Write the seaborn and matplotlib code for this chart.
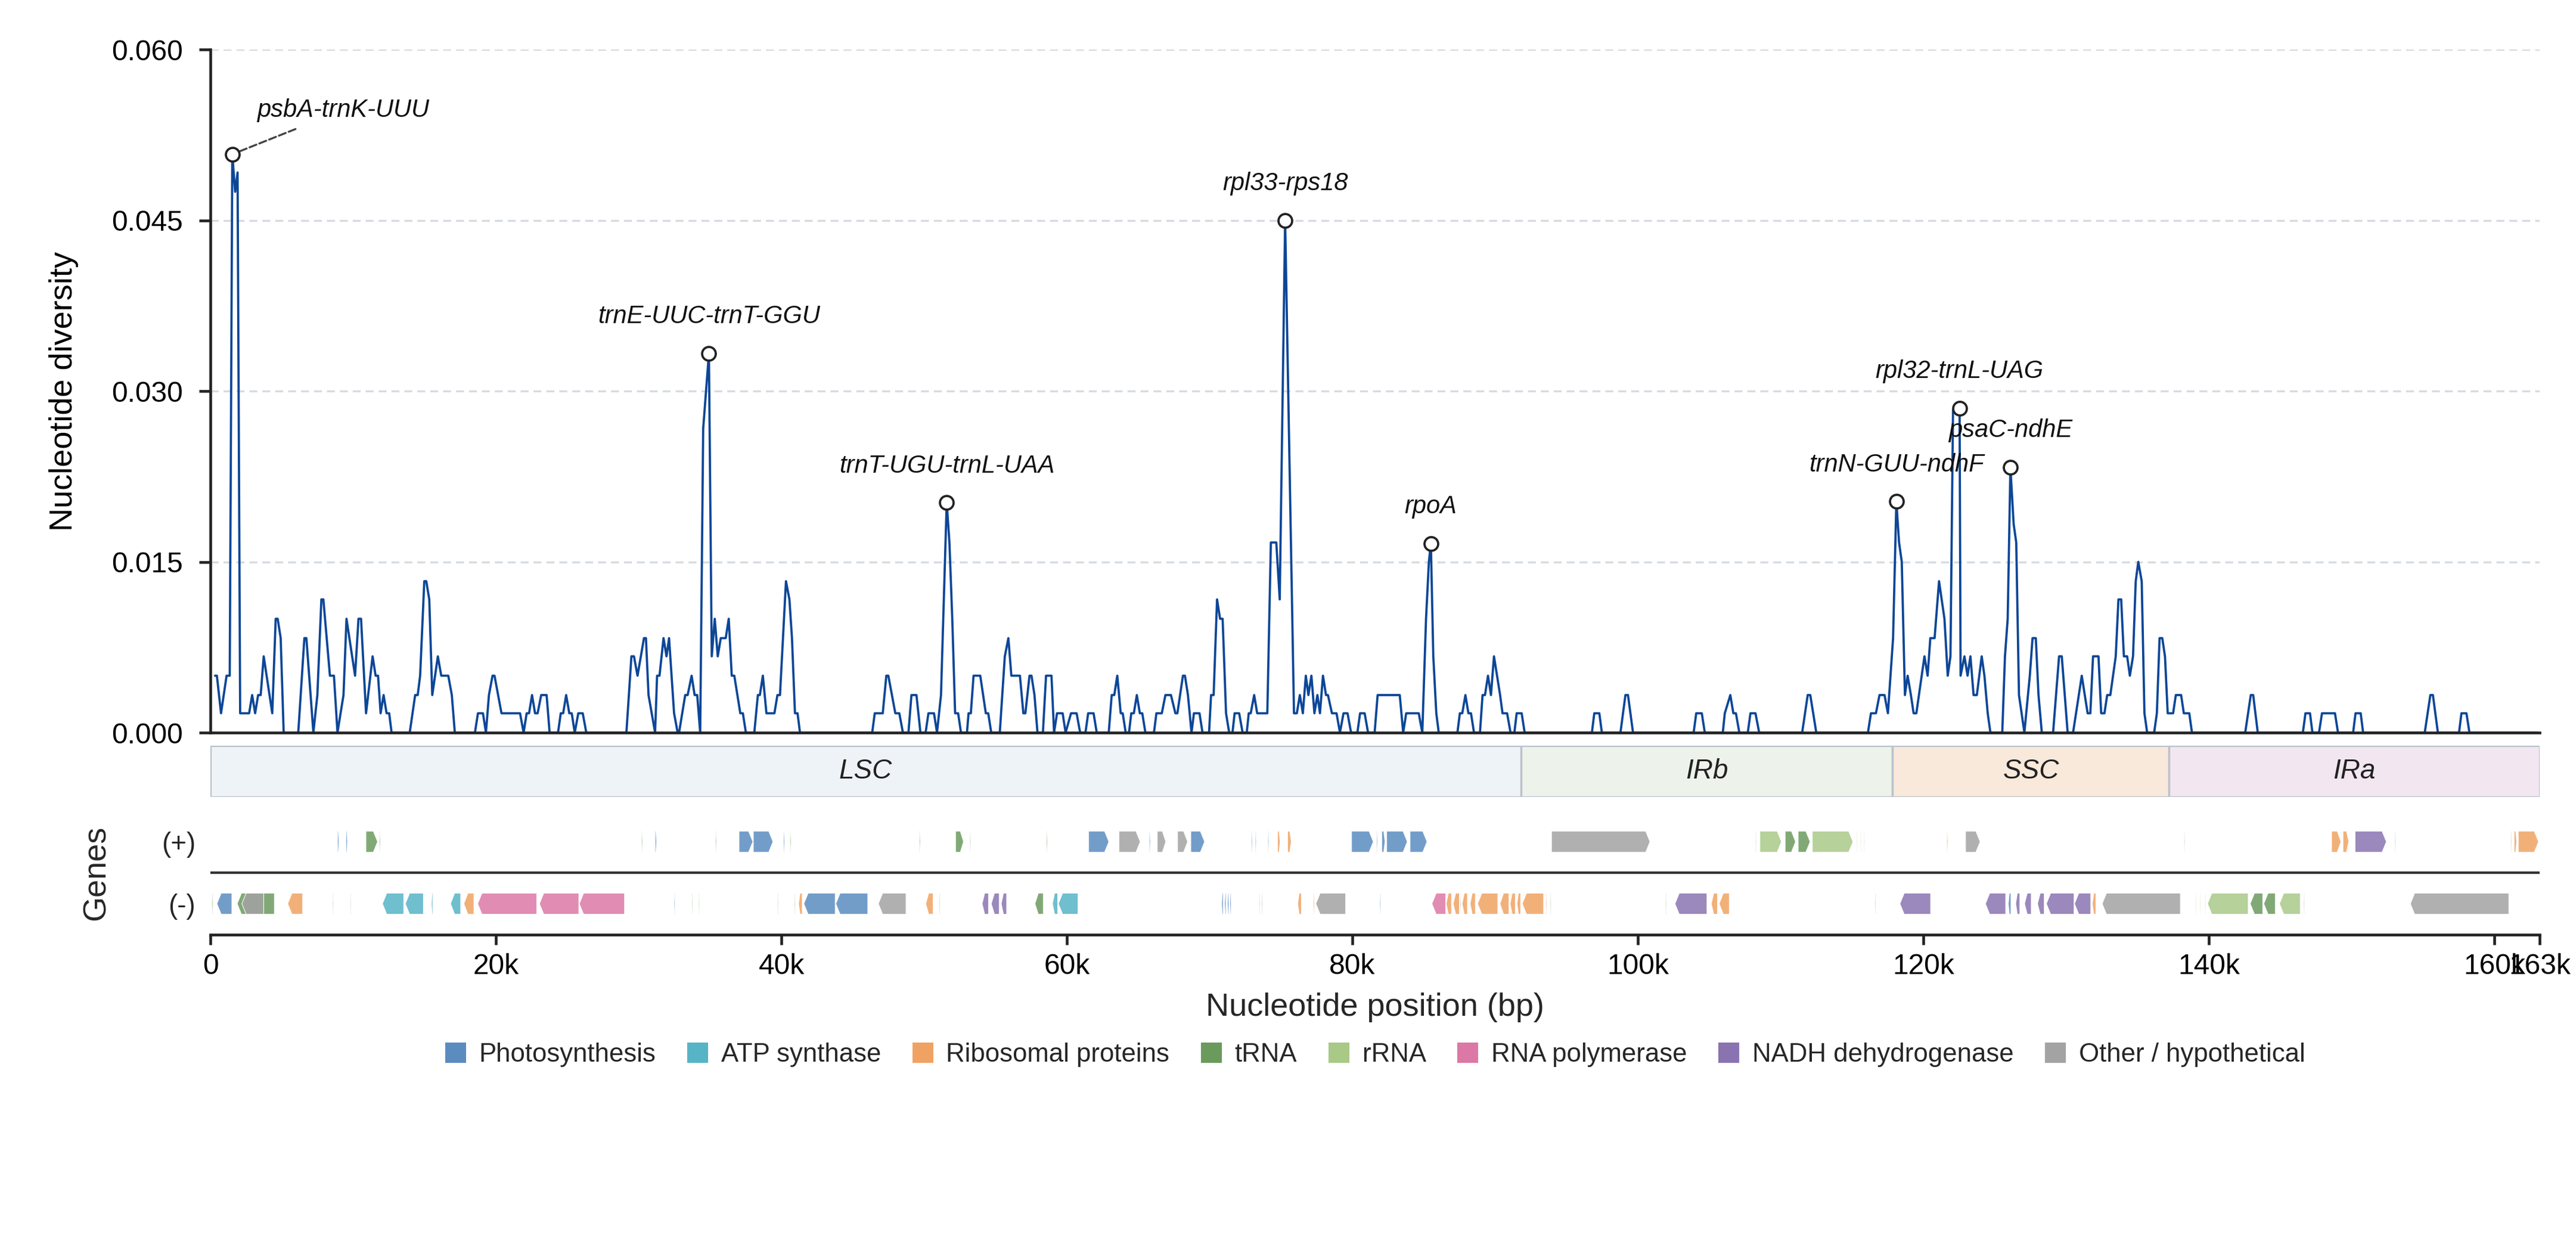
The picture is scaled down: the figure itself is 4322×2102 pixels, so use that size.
import numpy as np
import pandas as pd
import seaborn as sns
import matplotlib.pyplot as plt
from matplotlib.patches import Patch, Polygon, Rectangle
from matplotlib.ticker import FuncFormatter

# genome and region boundaries (bp)
genome_len = 163180
region_names = ['LSC', 'IRb', 'SSC', 'IRa']
region_start = [0, 91800, 117850, 137220]
region_end = [91800, 117850, 137220, 163180]
region_colors = ['#eef3f7', '#edf2ea', '#f9e9db', '#f2e7f1']

# sliding-window nucleotide diversity (window midpoint in kb, pi)
window_kb = [
    0.32, 0.45, 0.74, 1.13, 1.35, 1.53, 1.73, 1.90, 2.08, 2.71,
    2.92, 3.13, 3.34, 3.52, 3.73, 4.33, 4.57, 4.71, 4.92, 5.13,
    6.15, 6.58, 6.72, 7.21, 7.49, 7.77, 7.91, 8.37, 8.65, 8.90,
    9.32, 9.53, 10.13, 10.37, 10.55, 10.90, 11.36, 11.57, 11.74, 11.92,
    12.13, 12.34, 12.52, 12.69, 13.96, 14.34, 14.52, 14.69, 14.98, 15.12,
    15.33, 15.54, 15.93, 16.17, 16.66, 16.91, 17.12, 18.53, 18.74, 19.09,
    19.30, 19.51, 19.76, 19.90, 20.39, 21.69, 21.94, 22.15, 22.32, 22.53,
    22.74, 22.92, 23.17, 23.55, 23.76, 24.35, 24.54, 24.71, 24.92, 25.14,
    25.31, 25.52, 25.77, 26.08, 26.33, 29.14, 29.49, 29.67, 29.92, 30.37,
    30.51, 30.69, 31.15, 31.29, 31.46, 31.74, 31.95, 32.13, 32.48, 32.73,
    32.83, 33.26, 33.43, 33.71, 33.92, 34.10, 34.31, 34.52, 34.92, 35.12,
    35.33, 35.54, 35.75, 36.10, 36.31, 36.52, 36.70, 37.12, 37.30, 37.51,
    38.10, 38.35, 38.49, 38.70, 38.95, 39.51, 39.72, 39.90, 40.32, 40.56,
    40.74, 40.95, 41.13, 41.30, 46.36, 46.54, 47.10, 47.35, 47.49, 47.98,
    48.26, 48.51, 48.90, 49.11, 49.46, 49.74, 50.10, 50.30, 50.69, 50.90,
    51.18, 51.58, 51.77, 51.97, 52.17, 52.38, 52.58, 53.00, 53.11, 53.27,
    53.46, 53.93, 54.32, 54.49, 54.70, 55.30, 55.65, 55.90, 56.11, 56.71,
    56.95, 57.09, 57.38, 57.52, 57.73, 57.94, 58.32, 58.54, 58.92, 59.10,
    59.31, 59.70, 59.91, 60.29, 60.68, 60.93, 61.30, 61.49, 61.87, 62.09,
    62.93, 63.14, 63.32, 63.53, 63.77, 63.91, 64.12, 64.35, 64.51, 64.69,
    64.90, 65.11, 65.28, 65.50, 66.10, 66.27, 66.65, 66.90, 67.29, 67.60,
    67.74, 68.13, 68.27, 68.48, 68.73, 68.90, 69.29, 69.50, 69.96, 70.10,
    70.28, 70.52, 70.73, 70.91, 71.15, 71.37, 71.60, 71.75, 72.07, 72.31,
    72.60, 72.74, 72.88, 73.12, 73.33, 74.04, 74.29, 74.67, 74.91, 75.29,
    75.91, 76.11, 76.32, 76.53, 76.74, 76.92, 77.13, 77.34, 77.55, 77.73,
    77.94, 78.15, 78.29, 78.57, 78.89, 79.13, 79.38, 79.66, 79.91, 80.35,
    80.54, 80.86, 81.10, 81.56, 81.77, 83.32, 83.56, 83.77, 84.65, 84.90,
    85.16, 85.36, 85.50, 85.67, 85.88, 86.05, 87.36, 87.53, 87.70, 87.92,
    88.13, 88.31, 88.52, 88.94, 89.12, 89.29, 89.50, 89.71, 89.92, 90.35,
    90.52, 90.84, 91.08, 91.35, 91.51, 91.86, 92.07, 96.78, 96.95, 97.30,
    97.48, 98.78, 99.13, 99.31, 99.66, 103.91, 104.09, 104.48, 104.69, 105.95,
    106.09, 106.48, 106.69, 106.87, 107.11, 107.70, 107.89, 108.24, 108.50, 111.51,
    111.90, 112.08, 112.50, 116.12, 116.33, 116.68, 116.93, 117.28, 117.52, 117.88,
    118.11, 118.30, 118.49, 118.71, 118.90, 119.13, 119.32, 119.51, 120.08, 120.30,
    120.49, 120.79, 121.10, 121.48, 121.71, 121.90, 122.08, 122.54, 122.61, 122.88,
    123.10, 123.30, 123.52, 123.75, 124.09, 124.28, 124.51, 124.70, 125.53, 125.72,
    125.91, 126.10, 126.33, 126.51, 126.70, 127.08, 127.46, 127.65, 127.88, 128.07,
    128.30, 129.09, 129.51, 129.70, 130.11, 130.49, 131.10, 131.51, 131.70, 131.89,
    132.27, 132.46, 132.69, 132.88, 133.10, 133.48, 133.67, 133.86, 134.05, 134.28,
    134.47, 134.69, 134.88, 135.06, 135.30, 135.49, 135.68, 136.17, 136.36, 136.55,
    136.74, 136.93, 137.12, 137.50, 137.69, 138.06, 138.25, 138.63, 138.82, 142.55,
    142.94, 143.11, 143.43, 146.59, 146.77, 147.09, 147.26, 147.72, 147.93, 148.84,
    149.05, 150.11, 150.28, 150.64, 150.81, 155.13, 155.52, 155.70, 156.05, 157.53,
    157.70, 158.05, 158.26, 163.00,
]
window_pi = [
    .005, .005, .0017, .005, .005, .0508, .0475, .0492, .0017, .0017,
    .0033, .0017, .0033, .0033, .0067, .0017, .01, .01, .0083, 0,
    0, .0083, .0083, 0, .0033, .0117, .0117, .005, .005, 0,
    .0033, .01, .005, .01, .01, .0017, .0067, .005, .005, .0017,
    .0033, .0017, .0017, 0, 0, .0033, .0033, .005, .0133, .0133,
    .0117, .0033, .0067, .005, .005, .0033, 0, 0, .0017, .0017,
    0, .0033, .005, .005, .0017, .0017, 0, .0017, .0017, .0033,
    .0017, .0017, .0033, .0033, 0, 0, .0017, .0017, .0033, .0017,
    .0017, 0, .0017, .0017, 0, 0, .0067, .0067, .005, .0083,
    .0083, .0033, 0, .005, .005, .0083, .0067, .0083, .0017, 0,
    0, .0033, .0033, .005, .0033, .0033, 0, .0267, .0333, .0067,
    .01, .0067, .0083, .0083, .01, .005, .005, .0017, .0017, 0,
    0, .0033, .0033, .005, .0017, .0017, .0033, .0033, .0133, .0117,
    .0083, .0017, .0017, 0, 0, .0017, .0017, .005, .005, .0017,
    .0017, 0, 0, .0033, .0033, 0, 0, .0017, .0017, 0,
    .0033, .0202, .0167, .01, .0017, .0017, 0, 0, .0017, .0017,
    .005, .005, .0017, .0017, 0, 0, .0067, .0083, .005, .005,
    .0017, .0017, .005, .005, .0033, 0, 0, .005, .005, 0,
    .0017, .0017, 0, .0017, .0017, 0, 0, .0017, .0017, 0,
    0, .0033, .0033, .005, .0017, .0017, 0, 0, .0017, .0017,
    .0033, .0017, .0017, 0, 0, .0017, .0017, .0033, .0033, .0017,
    .0017, .005, .005, .0033, 0, .0017, .0017, 0, 0, .0033,
    .0033, .0117, .01, .01, .0017, 0, 0, .0017, .0017, 0,
    0, .0017, .0017, .0033, .0017, .0017, .0167, .0167, .0117, .045,
    .0017, .0017, .0033, .0017, .005, .0033, .005, .0017, .0033, .0017,
    .005, .0033, .0033, .0017, .0017, 0, .0017, .0017, 0, 0,
    .0017, .0017, 0, 0, .0033, .0033, 0, .0017, .0017, 0,
    .01, .015, .0166, .0067, .0017, 0, 0, .0017, .0017, .0033,
    .0017, .0017, 0, 0, .0033, .0033, .005, .0033, .0067, .0033,
    .0017, .0017, 0, 0, .0017, .0017, 0, 0, .0017, .0017,
    0, 0, .0033, .0033, 0, 0, .0017, .0017, 0, 0,
    .0017, .0033, .0017, .0017, 0, 0, .0017, .0017, 0, 0,
    .0033, .0033, 0, 0, .0017, .0017, .0033, .0033, .0017, .0083,
    .0203, .0167, .015, .0033, .005, .0033, .0017, .0017, .0067, .005,
    .0083, .0083, .0133, .01, .005, .0067, .0283, .0285, .005, .0067,
    .005, .0067, .0033, .0033, .0067, .005, .0017, 0, 0, .0067,
    .01, .0233, .0183, .0167, .0033, 0, .005, .0083, .0083, .0033,
    0, 0, .0067, .0067, 0, 0, .005, .0017, .0017, .0067,
    .0067, .0017, .0017, .0033, .0033, .0067, .0117, .0117, .0067, .0067,
    .005, .0067, .0133, .015, .0133, .0017, 0, 0, .0017, .0083,
    .0083, .0067, .0017, .0017, .0033, .0033, .0017, .0017, 0, 0,
    .0033, .0033, 0, 0, .0017, .0017, 0, 0, .0017, .0017,
    0, 0, .0017, .0017, 0, 0, .0033, .0033, 0, 0,
    .0017, .0017, 0, 0,
]

# highlighted hotspots (label, window kb)
hot_labels = ['psbA-trnK-UUU', 'trnE-UUC-trnT-GGU', 'trnT-UGU-trnL-UAA', 'rpl33-rps18',
              'rpoA', 'trnN-GUU-ndhF', 'rpl32-trnL-UAG', 'psaC-ndhE']
hot_kb = [1.53, 34.92, 51.58, 75.29, 85.50, 118.11, 122.54, 126.10]

# genes: (start kb, end kb, strand)
photosynthesis = [
    (8.90, 9.00, 1), (9.50, 9.60, 1), (31.15, 31.25, 1), (37.03, 38.00, 1), (38.03, 39.41, 1),
    (40.15, 40.23, 1), (61.52, 62.94, 1), (65.77, 65.85, 1), (68.68, 69.65, 1), (72.93, 73.00, 1),
    (73.20, 73.27, 1), (74.08, 74.15, 1), (79.94, 81.47, 1), (81.70, 81.77, 1), (82.06, 82.29, 1),
    (82.40, 83.85, 1), (84.04, 85.23, 1),
    (0.45, 1.50, -1), (32.48, 32.55, -1), (41.57, 43.77, -1), (43.81, 46.05, -1), (70.84, 70.95, -1),
    (71.05, 71.15, -1), (71.25, 71.35, -1), (71.42, 71.51, -1), (81.92, 81.99, -1), (125.95, 126.14, -1),
]
atp_synthase = [
    (12.05, 13.54, -1), (13.65, 14.92, -1), (15.48, 15.58, -1), (16.82, 17.53, -1),
    (58.99, 59.36, -1), (59.40, 60.78, -1),
]
ribosomal = [
    (74.76, 74.94, 1), (75.46, 75.72, 1), (121.64, 121.72, 1), (148.60, 149.26, 1), (149.40, 149.81, 1),
    (161.39, 161.57, 1), (161.68, 163.10, 1),
    (5.41, 6.46, -1), (17.75, 18.46, -1), (41.20, 41.46, -1), (50.11, 50.63, -1), (76.17, 76.43, -1),
    (77.25, 77.33, -1), (86.57, 86.95, -1), (87.06, 87.50, -1), (87.69, 88.06, -1), (88.25, 88.62, -1),
    (88.77, 90.19, -1), (90.34, 90.97, -1), (91.05, 91.42, -1), (91.53, 91.79, -1), (91.90, 93.40, -1),
    (93.55, 93.62, -1), (105.14, 105.58, -1), (105.70, 106.41, -1), (131.84, 132.09, -1),
]
trna = [
    (10.89, 11.71, 1), (11.83, 11.90, 1), (30.20, 30.27, 1), (35.38, 35.45, 1), (40.60, 40.67, 1),
    (49.66, 49.73, 1), (52.20, 52.76, 1), (58.57, 58.64, 1), (108.24, 108.30, 1), (110.32, 111.05, 1),
    (111.23, 112.07, 1), (122.93, 123.00, 1), (138.27, 138.33, 1), (153.03, 153.09, 1), (161.17, 161.23, 1),
    (0.10, 0.17, -1), (1.87, 4.48, -1), (8.55, 8.61, -1), (9.78, 9.84, -1), (33.72, 33.78, -1),
    (34.20, 34.26, -1), (39.72, 39.78, -1), (40.91, 40.97, -1), (51.05, 51.11, -1), (57.76, 58.35, -1),
    (73.46, 73.52, -1), (73.64, 73.70, -1), (93.85, 93.91, -1), (101.94, 102.00, -1), (116.61, 116.67, -1),
    (142.90, 143.78, -1), (143.85, 144.66, -1), (146.64, 146.70, -1),
]
rrna = [
    (108.55, 110.06, 1), (112.22, 115.07, 1), (115.33, 115.39, 1), (115.59, 115.65, 1), (115.84, 115.90, 1),
    (139.07, 139.13, -1), (139.37, 139.43, -1), (139.73, 139.79, -1), (139.91, 142.76, -1), (144.95, 146.41, -1),
]
rna_polymerase = [
    (18.72, 22.86, -1), (23.05, 25.81, -1), (25.84, 29.01, -1), (85.57, 86.54, -1),
]
nadh = [
    (150.25, 152.44, 1),
    (54.06, 54.51, -1), (54.70, 55.26, -1), (55.40, 55.78, -1), (102.60, 104.84, -1), (118.36, 120.51, -1),
    (124.35, 125.77, -1), (126.47, 126.76, -1), (127.09, 127.56, -1), (128.00, 128.47, -1),
    (128.62, 130.56, -1), (130.59, 131.73, -1),
]
other = [
    (53.20, 53.27, 1), (63.65, 65.14, 1), (66.33, 66.93, 1), (67.75, 68.46, 1), (93.95, 100.85, 1),
    (122.96, 123.98, 1),
    (2.20, 3.73, -1), (46.79, 48.73, -1), (77.44, 79.53, -1), (87.55, 87.62, -1), (132.53, 138.01, -1),
    (154.12, 161.02, -1),
]

cat_names = ['Photosynthesis', 'ATP synthase', 'Ribosomal proteins', 'tRNA', 'rRNA',
             'RNA polymerase', 'NADH dehydrogenase', 'Other / hypothetical']
cat_colors = ['#5b8cc0', '#56b4c6', '#f0a262', '#6b9a5d', '#a9c987', '#dc78a6', '#8a73b1', '#a3a3a3']
cat_genes = [photosynthesis, atp_synthase, ribosomal, trna, rrna, rna_polymerase, nadh, other]
draw_order = [3, 4, 0, 1, 2, 5, 6, 7]

sns.set_theme(style='ticks')
plt.rcParams['font.family'] = ['Liberation Sans', 'DejaVu Sans']
plt.rcParams['font.size'] = 11
ink = '#222222'

fig = plt.figure(figsize=(4322 / 300, 2102 / 300), dpi=300)
ax = fig.add_axes([0.0817, 0.4153, 0.9042, 0.5452])
ax_reg = fig.add_axes([0.0817, 0.3639, 0.9042, 0.0410])
ax_gene = fig.add_axes([0.0817, 0.2540, 0.9042, 0.0990])

# --- diversity curve ---
df = pd.DataFrame({'pos': np.array(window_kb) * 1000, 'pi': window_pi})
sns.lineplot(data=df, x='pos', y='pi', ax=ax, color='#0c4697', lw=0.9,
             estimator=None, sort=False)
ax.set_xlim(0, genome_len)
ax.set_ylim(0, 0.06)
ax.set_yticks([0, 0.015, 0.03, 0.045, 0.06])
ax.yaxis.set_major_formatter(FuncFormatter(lambda v, _: f'{v:.3f}'))
ax.set_xticks([])
ax.set_xlabel('')
ax.set_ylabel('Nucleotide diversity', fontsize=13, color='black')
ax.yaxis.set_label_coords(-0.0566, 0.5)
ax.yaxis.grid(True, ls=(0, (4, 2.5)), color='#d5dbe1', lw=0.8)
ax.set_axisbelow(True)
for s in ['top', 'right']:
    ax.spines[s].set_visible(False)
for s in ['left', 'bottom']:
    ax.spines[s].set_color(ink)
    ax.spines[s].set_linewidth(1.1)
ax.tick_params(axis='y', length=4.5, width=1.1, pad=6.5, color=ink, labelsize=11.5,
               labelcolor='black')

hot_pi = [df['pi'].iloc[(df['pos'] - k * 1000).abs().idxmin()] for k in hot_kb]
ax.plot(np.array(hot_kb) * 1000, hot_pi, 'o', ms=5.5, mfc='white', mec=ink, mew=0.9, zorder=5)
for lab, k, p in zip(hot_labels, hot_kb, hot_pi):
    if lab == 'psbA-trnK-UUU':
        ax.annotate(lab, (k * 1000, p), xytext=(10, 13), textcoords='offset points',
                    ha='left', va='bottom', fontsize=10, style='italic', color='#111111',
                    arrowprops=dict(arrowstyle='-', ls='--', color='#444444', lw=0.8))
    else:
        ax.annotate(lab, (k * 1000, p), xytext=(0, 10), textcoords='offset points',
                    ha='center', va='bottom', fontsize=10, style='italic', color='#111111')

# --- region bar ---
ax_reg.set_xlim(0, genome_len)
ax_reg.set_ylim(0, 1)
for name, s, e, c in zip(region_names, region_start, region_end, region_colors):
    ax_reg.add_patch(Rectangle((s, 0), e - s, 1, fc=c, ec='#b9c2cc', lw=0.8))
    ax_reg.text((s + e) / 2, 0.5, name, ha='center', va='center', fontsize=11,
                style='italic', color=ink)
ax_reg.axis('off')

# --- gene track ---
h = 0.34
for ci in draw_order:
    for s, e, strand in cat_genes[ci]:
        s, e = s * 1000, e * 1000
        head = min(300, 0.4 * (e - s))
        y = 0.5 if strand > 0 else -0.5
        if strand > 0:
            pts = [(s, y - h / 2), (e - head, y - h / 2), (e, y), (e - head, y + h / 2), (s, y + h / 2)]
        else:
            pts = [(e, y - h / 2), (s + head, y - h / 2), (s, y), (s + head, y + h / 2), (e, y + h / 2)]
        ax_gene.add_patch(Polygon(pts, closed=True, fc=cat_colors[ci], ec='white', lw=0.3, alpha=0.85))
ax_gene.axhline(0, color='#333333', lw=1.0)
ax_gene.set_xlim(0, genome_len)
ax_gene.set_ylim(-1, 1)
ax_gene.set_yticks([0.5, -0.5])
ax_gene.set_yticklabels(['(+)', '(-)'])
ax_gene.tick_params(axis='y', length=0, pad=6, labelsize=11)
xt = [0, 20000, 40000, 60000, 80000, 100000, 120000, 140000, 160000, genome_len]
ax_gene.set_xticks(xt)
ax_gene.xaxis.set_major_formatter(FuncFormatter(lambda v, _: '0' if v == 0 else f'{v / 1000:.0f}k'))
ax_gene.tick_params(axis='x', length=4, width=1.1, color=ink, labelsize=11.5, labelcolor='black')
for s in ['top', 'right', 'left']:
    ax_gene.spines[s].set_visible(False)
ax_gene.spines['bottom'].set_color(ink)
ax_gene.spines['bottom'].set_linewidth(1.1)
ax_gene.set_xlabel('Nucleotide position (bp)', fontsize=13, labelpad=5)
ax_gene.set_ylabel('Genes', fontsize=13)
ax_gene.yaxis.set_label_coords(-0.0425, 0.5)

handles = [Patch(fc=c, ec='none', label=n) for n, c in zip(cat_names, cat_colors)]
fig.legend(handles=handles, loc='center', bbox_to_anchor=(0.5338, 0.158), ncol=8,
           frameon=False, fontsize=10.5, handlelength=0.8, handleheight=0.8,
           handletextpad=0.5, columnspacing=1.2)

fig.savefig('out.png', dpi=300)
